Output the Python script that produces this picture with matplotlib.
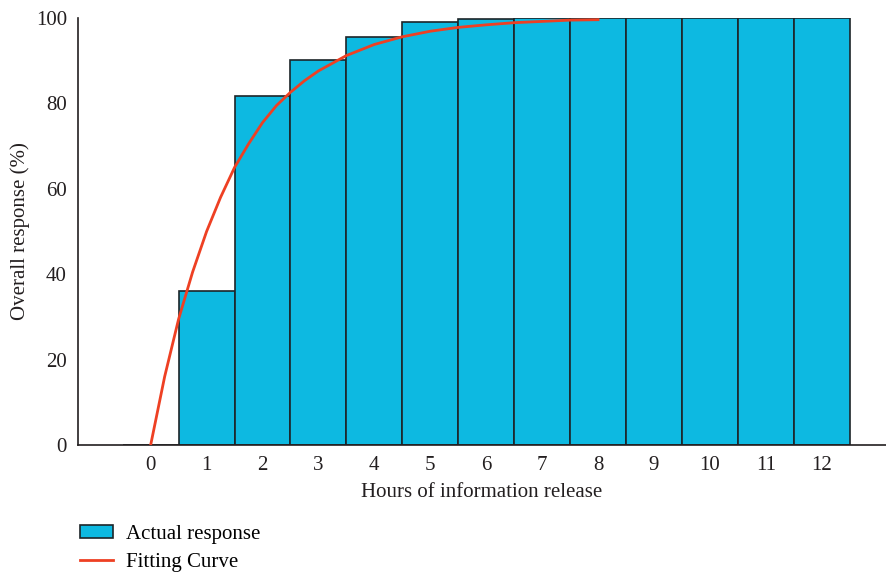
import matplotlib.pyplot as plt
import numpy as np

# bar data (hours after release, overall response %)
hours = [0, 1, 2, 3, 4, 5, 6, 7, 8, 9, 10, 11, 12]
actual = [0, 36.1, 81.8, 90.2, 95.5, 99.0, 99.8, 100, 100, 100, 100, 100, 100]

# fitting curve
fit_x = [0, 0.25, 0.5, 0.75, 1.0, 1.25, 1.5, 1.75, 2.0, 2.25, 2.5, 2.75, 3.0,
         3.5, 4.0, 4.5, 5.0, 5.5, 6.0, 6.5, 7.0, 7.5, 8.0]
fit_y = [0, 16.0, 29.5, 40.5, 50.0, 58.0, 65.0, 70.5, 75.5, 79.5, 82.6, 85.3, 87.6,
         91.2, 93.8, 95.6, 96.9, 97.8, 98.4, 98.9, 99.2, 99.5, 99.6]

plt.rcParams['font.family'] = ['Liberation Serif', 'DejaVu Serif']
fs = 15
txt = '#231f20'

fig = plt.figure(figsize=(8.86, 5.73), dpi=100)
ax = fig.add_axes([0.088, 0.2234, 0.912, 0.7452])

bars = ax.bar(hours, actual, width=1.0, color='#0DB9E1', edgecolor='#1d2529',
              linewidth=1.2, zorder=2)
line, = ax.plot(fit_x, fit_y, color='#EE4023', lw=2.0, zorder=3)

ax.set_xlim(-1.3, 13.15)
ax.set_ylim(0, 100)
ax.set_xticks(hours)
ax.set_yticks(np.arange(0, 101, 20))
ax.tick_params(length=0, labelsize=fs, colors=txt)
ax.tick_params(axis='y', pad=8)
ax.tick_params(axis='x', pad=8)
for s in ['top', 'right']:
    ax.spines[s].set_visible(False)
for s in ['left', 'bottom']:
    ax.spines[s].set_color(txt)
    ax.spines[s].set_linewidth(1.2)

ax.set_xlabel('Hours of information release', fontsize=fs, color=txt, labelpad=6)
ax.set_ylabel('Overall response (%)', fontsize=fs, color=txt, labelpad=4)

fig.legend([bars, line], ['Actual response', 'Fitting Curve'],
           loc='upper left', bbox_to_anchor=(0.09, 0.084), frameon=False,
           fontsize=fs, handlelength=1.6, handleheight=0.55, handletextpad=0.6,
           labelspacing=0.42, borderaxespad=0, borderpad=0)

fig.savefig('out.png', dpi=100)
